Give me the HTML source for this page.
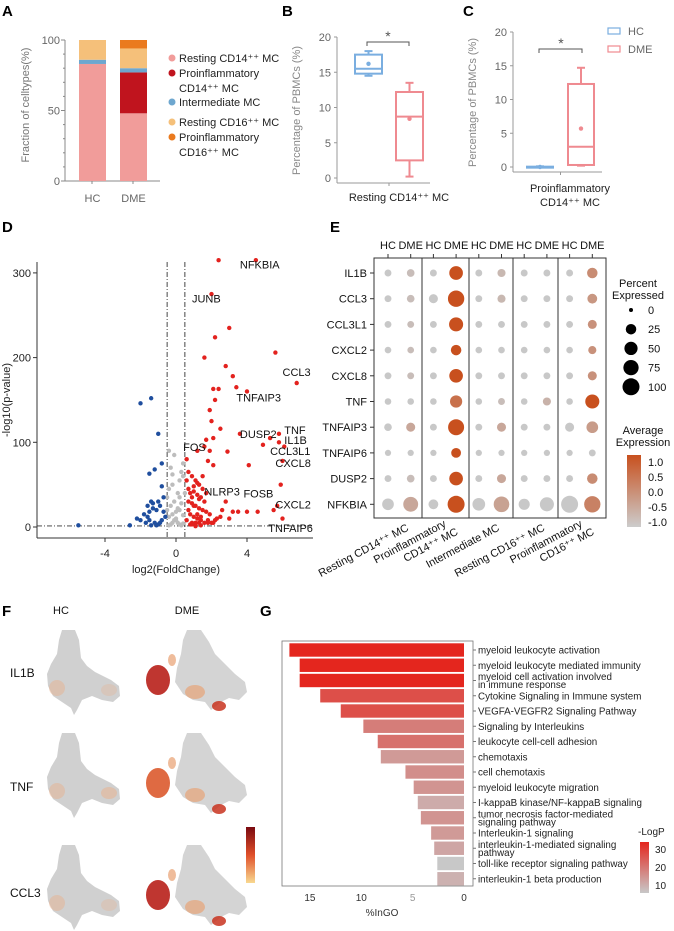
<!DOCTYPE html>
<html><head><meta charset="utf-8"><style>
html,body{margin:0;padding:0;background:#fff}
svg{display:block;font-family:"Liberation Sans",Arial,sans-serif}
</style></head><body>
<svg id="fig" width="674" height="931" viewBox="0 0 674 931">
<g font-size="15" font-weight="bold" fill="#000">
<text x="2" y="16">A</text>
<text x="282" y="16">B</text>
<text x="463" y="16">C</text>
<text x="2" y="232">D</text>
<text x="330" y="232">E</text>
<text x="2" y="616">F</text>
<text x="260" y="616">G</text>
</g>
<g id="pA"></g>
<g id="pB"></g>
<g id="pC"></g>
<g id="pD"></g>
<g id="pE"></g>
<g id="pF"></g>
<g id="pG"></g>
</svg>
<script>
const NS="http://www.w3.org/2000/svg";
function mk(p,t,a,txt){const e=document.createElementNS(NS,t);for(const k in a)e.setAttribute(k,a[k]);if(txt!==undefined)e.textContent=txt;p.appendChild(e);return e;}

// ---------- Panel A data ----------
const aGroups=["HC","DME"];
const aCellTypes=["Resting CD14⁺⁺ MC","Proinflammatory CD14⁺⁺ MC","Intermediate MC","Resting CD16⁺⁺ MC","Proinflammatory CD16⁺⁺ MC"];
const aHC=[83,0,3,14,0];
const aDME=[48,29,3,14,6];
const aTicks=[0,50,100];
const aColors=["#f19c9a","#c0141e","#6ea7cf","#f5c07a","#ea7a1e"];
// ---------- Panel B/C data ----------
const bHC=[14.5,14.8,15.5,17.5,18.0,16.2];
const bDME=[0.2,2.5,8.7,12.2,13.5,8.4];
const bTicks=[0,5,10,15,20];
const cHC=[0,0,0,0.05,0.1,0];
const cDME=[0.2,0.3,3.0,12.3,14.7,5.7];
const cTicks=[0,5,10,15,20];
// ---------- Panel D data ----------
const dUpX=[2.4,4.5,2.0,3.0,2.2,5.6,1.6,2.8,3.2,6.8,3.4,2.1,2.4,4.0,2.2,1.9,2.0,2.5,5.8,3.6,5.3,2.1,1.7,5.8,6.1,4.9,1.6,1.9,2.9,1.2,0.6,1.8,6.0,4.1,2.1,5.9,2.8,5.5,5.7,6.0,4.0,4.6,3.5,3.0,3.2,2.5,2.2,1.9,0.7,0.9,1.1,1.3,1.5,0.8,1.0,1.2,1.4,1.6,0.7,0.9,1.1,1.3,1.5,1.7,0.8,1.0,1.2,1.4,0.6,0.9,1.1,1.3,1.6,1.8,2.0,0.7,1.0,1.2,1.5,1.7,0.8,1.1,1.4,0.6,0.9,1.3,2.3,2.6,1.0,1.2,0.7,1.4,1.8,2.1,0.9,1.1];
const dUpY=[315,315,275,235,224,206,200,190,178,170,165,163,163,160,150,138,125,116,110,110,105,105,103,100,95,97,95,90,89,90,80,78,78,73,73,50,30,20,25,10,18,18,18,10,18,12,8,15,65,60,55,50,45,40,42,38,35,30,30,28,25,22,20,18,15,12,10,8,8,5,5,5,5,5,5,45,48,52,60,40,3,2,2,55,35,33,10,20,25,15,20,12,8,5,3,1];
const dDownX=[-1.4,-2.0,-1.0,-0.8,-1.2,-1.5,-5.5,-2.6,-2.2,-1.4,-1.0,-1.8,-1.6,-1.5,-1.3,-1.1,-0.9,-0.7,-1.7,-1.5,-1.2,-1.0,-0.8,-1.4,-1.1,-0.9,-0.6,-1.6,-1.3,-0.7,-2.0,-0.8];
const dDownY=[152,146,110,75,68,63,2,2,10,30,30,15,12,18,22,20,25,18,5,8,5,3,8,2,2,5,12,25,28,35,8,48];
const dNsX=[-0.4,-0.3,-0.2,-0.1,0.0,0.1,0.2,0.3,0.4,-0.4,-0.2,0.0,0.2,0.4,-0.3,-0.1,0.1,0.3,-0.5,0.5,-0.4,-0.2,0.2,0.4,0.0,-0.3,0.3,-0.1,0.1,-0.4,0.4,-0.2,0.2,-0.5];
const dNsY=[2,3,5,8,10,5,3,2,4,12,15,18,20,14,25,30,22,28,35,40,45,50,55,60,8,70,65,85,40,90,75,62,35,20];
const dXTicks=[-4,0,4];
const dYTicks=[0,100,200,300];
const dLabels=["NFKBIA","JUNB","CCL3","TNFAIP3","DUSP2","TNF","IL1B","CCL3L1","CXCL8","FOS","NLRP3","FOSB","CXCL2","TNFAIP6"];
const dLabX=[3.6,0.9,6.0,3.4,3.6,6.1,6.1,5.3,5.6,0.4,1.6,3.8,5.6,5.2];
const dLabY=[305,265,178,148,105,110,98,85,71,90,37,35,22,-6];
// ---------- Panel E data ----------
const eGenes=["IL1B","CCL3","CCL3L1","CXCL2","CXCL8","TNF","TNFAIP3","TNFAIP6","DUSP2","NFKBIA"];
const eGroupsTop=["HC","DME","HC","DME","HC","DME","HC","DME","HC","DME"];
const eCellTypes=["Resting CD14⁺⁺ MC","Proinflammatory|CD14⁺⁺ MC","Intermediate MC","Resting CD16⁺⁺ MC","Proinflammatory|CD16⁺⁺ MC"];
const ePct=[
[5,8,5,55,5,10,5,5,5,25],
[5,8,15,90,5,10,5,5,5,20],
[5,5,5,60,5,5,5,5,5,15],
[4,4,4,25,4,4,4,4,4,10],
[5,5,5,55,5,5,5,5,5,15],
[4,4,4,40,4,5,4,10,4,60],
[8,15,5,85,5,15,5,5,15,35],
[3,3,3,20,3,3,3,3,3,5],
[5,8,5,55,5,15,5,5,5,25],
[35,70,20,100,45,80,30,60,100,90]];
const eExpr=[
[-1,-0.8,-1,1.2,-1,-0.7,-1,-1,-1,0.1],
[-1,-0.8,-1,1.3,-1,-0.7,-1,-1,-1,-0.1],
[-1,-0.8,-1,1.3,-1,-1,-1,-1,-1,0],
[-1,-0.8,-1,1.3,-1,-1,-1,-1,-1,0],
[-1,-0.8,-1,1.3,-1,-1,-1,-1,-1,0],
[-1,-1,-1,0.6,-1,-0.8,-1,-0.6,-1,1.2],
[-1,-0.4,-1,1.3,-1,-0.4,-1,-1,-1,-0.2],
[-1,-1,-1,1.3,-1,-1,-1,-1,-1,-1],
[-1,-0.8,-1,1.3,-1,-0.4,-1,-1,-1,0.1],
[-1,-0.4,-1,1.3,-1,-0.3,-1,-1,-1,0.3]];
const ePctLegend=[0,25,50,75,100];
const eExprTicks=[1.0,0.5,0.0,-0.5,-1.0];
// ---------- Panel G data ----------
const gTerms=["myeloid leukocyte activation","myeloid leukocyte mediated immunity","myeloid cell activation involved|in immune response","Cytokine Signaling in Immune system","VEGFA-VEGFR2 Signaling Pathway","Signaling by Interleukins","leukocyte cell-cell adhesion","chemotaxis","cell chemotaxis","myeloid leukocyte migration","I-kappaB kinase/NF-kappaB signaling","tumor necrosis factor-mediated|signaling pathway","Interleukin-1 signaling","interleukin-1-mediated signaling|pathway","toll-like receptor signaling pathway","interleukin-1 beta production"];
const gPct=[17,16,16,14,12,9.8,8.4,8.1,5.7,4.9,4.5,4.2,3.2,2.9,2.6,2.6];
const gLogP=[34,34,34,27,27,19,21,14,16,15,11,15,14,12,6,10];
const gTicks=[15,10,5,0];
const gLegendTicks=[30,20,10];

// ===== Panel A =====
(function(){
 const g=document.getElementById('pA');
 const y=v=>181-v*1.41, x0=65;
 mk(g,'line',{x1:x0,y1:40,x2:x0,y2:181,stroke:'#888','stroke-width':1});
 mk(g,'line',{x1:x0,y1:181,x2:160,y2:181,stroke:'#888','stroke-width':1});
 for(let t=0;t<=100;t+=10)mk(g,'line',{x1:x0-(t%50?2:4),y1:y(t),x2:x0,y2:y(t),stroke:'#888'});
 [92,133].forEach(xx=>mk(g,'line',{x1:xx,y1:181,x2:xx,y2:184,stroke:'#888'}));
 aTicks.forEach(t=>{
  const e=mk(g,'text',{x:x0-5,y:y(t)+4,'font-size':11,'text-anchor':'end',fill:'#666'},t);
  });
 [aHC,aDME].forEach((arr,gi)=>{let cum=0;const bx=gi?120:79;
  arr.forEach((v,i)=>{if(v<=0)return;const r=mk(g,'rect',{x:bx,y:y(cum+v),width:27,height:v*1.41,fill:aColors[i]});
   cum+=v;});
  const e=mk(g,'text',{x:bx+13.5,y:202,'font-size':11,'text-anchor':'middle',fill:'#666'},aGroups[gi]);
  });
 const t=mk(g,'text',{transform:'translate(29,105) rotate(-90)','font-size':11,'text-anchor':'middle',fill:'#777'},'Fraction of celltypes(%)');
 
 const ly=[[62],[77,92],[106],[126],[141,156]];
 aCellTypes.forEach((n,i)=>{const c=mk(g,'circle',{cx:172,cy:ly[i][0]-4,r:3.5,fill:aColors[i]});
  
  const parts=n.indexOf('Proinflammatory')===0?['Proinflammatory',n.slice(16)]:[n];
  parts.forEach((p,j)=>{const e=mk(g,'text',{x:179,y:ly[i][j],'font-size':11,fill:'#222'},p);
   });});
})();

// ===== Box plot helper =====
function boxPanel(id,ax,y0,y20,hcx,dmx,w,hc,dme,ticks,title,titleY,axRight){
 const g=document.getElementById(id);const y=v=>y0-(v/20)*(y0-y20);
 mk(g,'line',{x1:ax,y1:y20,x2:ax,y2:y0+5,stroke:'#999','stroke-width':1});
 mk(g,'line',{x1:ax,y1:y0+5,x2:axRight,y2:y0+5,stroke:'#999','stroke-width':1});
 mk(g,'line',{x1:(hcx+dmx+w)/2,y1:y0+5,x2:(hcx+dmx+w)/2,y2:y0+8,stroke:'#999'});
 ticks.forEach(t=>{mk(g,'line',{x1:ax-3,y1:y(t),x2:ax,y2:y(t),stroke:'#999'});
  const e=mk(g,'text',{x:ax-6,y:y(t)+4,'font-size':11,'text-anchor':'end',fill:'#666'},t);
  });
 [[hc,hcx,'#7aaee0'],[dme,dmx,'#ef8a90']].forEach(([d,bx,c])=>{
  const cx=bx+w/2;
  const b=mk(g,'rect',{x:bx,y:y(d[3]),width:w,height:Math.max(1,y(d[1])-y(d[3])),fill:'none',stroke:c,'stroke-width':2});
  
  mk(g,'line',{x1:bx,y1:y(d[2]),x2:bx+w,y2:y(d[2]),stroke:c,'stroke-width':2});
  mk(g,'line',{x1:cx,y1:y(d[3]),x2:cx,y2:y(d[4]),stroke:c,'stroke-width':2});
  mk(g,'line',{x1:cx,y1:y(d[1]),x2:cx,y2:y(d[0]),stroke:c,'stroke-width':2});
  mk(g,'line',{x1:cx-4,y1:y(d[4]),x2:cx+4,y2:y(d[4]),stroke:c,'stroke-width':2});
  mk(g,'line',{x1:cx-4,y1:y(d[0]),x2:cx+4,y2:y(d[0]),stroke:c,'stroke-width':2});
  mk(g,'circle',{cx:cx,cy:y(d[5]),r:2.2,fill:c});});
 const t=mk(g,'text',{transform:`translate(${ax-37},${(y0+y20)/2+3}) rotate(-90)`,'font-size':11,'text-anchor':'middle',fill:'#888'},'Percentage of PBMCs (%)');
 
 return g;
}
(function(){
 const g=boxPanel('pB',337,178,37,355,396,27,bHC,bDME,bTicks,[],0,430);
 mk(g,'path',{d:'M367,46V42H409V46',fill:'none',stroke:'#555','stroke-width':1});
 mk(g,'text',{x:388,y:41,'font-size':14,'text-anchor':'middle',fill:'#555'},'*');
 const e=mk(g,'text',{x:399,y:201,'font-size':11,'text-anchor':'middle',fill:'#222'},'Resting CD14⁺⁺ MC');
 
})();
(function(){
 const g=boxPanel('pC',513,167,32,527,568,26,cHC,cDME,cTicks,[],0,602);
 mk(g,'path',{d:'M539,53V49H582V53',fill:'none',stroke:'#555','stroke-width':1});
 mk(g,'text',{x:561,y:48,'font-size':14,'text-anchor':'middle',fill:'#555'},'*');
 ['Proinflammatory','CD14⁺⁺ MC'].forEach((s,i)=>{const e=mk(g,'text',{x:570,y:192+i*14,'font-size':11,'text-anchor':'middle',fill:'#222'},s);
  });
 [['HC','#7aaee0',31],['DME','#ef8a90',49]].forEach(([n,c,yy])=>{
  const r=mk(g,'rect',{x:608,y:yy-3,width:12,height:6,fill:'none',stroke:c,'stroke-width':1.2});
  
  const e=mk(g,'text',{x:628,y:yy+4,'font-size':11,fill:'#666'},n);
  });
})();

// ===== Panel D =====
(function(){
 const g=document.getElementById('pD');
 const x=v=>176+v*17.75, y=v=>527-v*0.847;
 mk(g,'line',{x1:37,y1:262,x2:37,y2:538,stroke:'#333','stroke-width':1});
 mk(g,'line',{x1:37,y1:538,x2:313,y2:538,stroke:'#333','stroke-width':1});
 mk(g,'line',{x1:x(-0.5),y1:262,x2:x(-0.5),y2:538,stroke:'#333','stroke-dasharray':'5,2,1,2','stroke-width':0.9});
 mk(g,'line',{x1:x(0.5),y1:262,x2:x(0.5),y2:538,stroke:'#333','stroke-dasharray':'5,2,1,2','stroke-width':0.9});
 mk(g,'line',{x1:37,y1:y(1.3),x2:313,y2:y(1.3),stroke:'#333','stroke-dasharray':'5,2,1,2','stroke-width':0.9});
 dXTicks.forEach(t=>{mk(g,'line',{x1:x(t),y1:538,x2:x(t),y2:542,stroke:'#333'});
  const e=mk(g,'text',{x:x(t),y:557,'font-size':11,'text-anchor':'middle',fill:'#222'},t);
  });
 dYTicks.forEach(t=>{mk(g,'line',{x1:33,y1:y(t),x2:37,y2:y(t),stroke:'#333'});
  const e=mk(g,'text',{x:31,y:y(t)+4,'font-size':11,'text-anchor':'end',fill:'#222'},t);
  });
 const tx=mk(g,'text',{x:176,y:573,'font-size':11,'text-anchor':'middle',fill:'#222'},'log2(FoldChange)');
 
 const ty=mk(g,'text',{transform:'translate(10,400) rotate(-90)','font-size':11,'text-anchor':'middle',fill:'#222'},'-log10(p-value)');
 
 dNsX.forEach((v,i)=>{const c=mk(g,'circle',{cx:x(v),cy:y(dNsY[i]),r:2.2,fill:'#bdbdbd'});});
 dDownX.forEach((v,i)=>{const c=mk(g,'circle',{cx:x(v),cy:y(dDownY[i]),r:2.2,fill:'#1f4e9e'});});
 dUpX.forEach((v,i)=>{const c=mk(g,'circle',{cx:x(v),cy:y(Math.min(dUpY[i],318)),r:2.2,fill:'#e3221e'});});
 dLabels.forEach((n,i)=>{const e=mk(g,'text',{x:x(dLabX[i]),y:y(dLabY[i]),'font-size':11,fill:'#111'},n);
  });
})();

// ===== Panel E =====
(function(){
 const g=document.getElementById('pE');
 const cx=i=>388+i*22.7, cy=j=>273+j*25.7;
 const col=v=>{const t=Math.max(0,Math.min(1,(v+1)/2.2));const a=[200,200,200],b=[200,80,30];return `rgb(${a.map((c,k)=>Math.round(c+(b[k]-c)*t)).join(',')})`;};
 mk(g,'rect',{x:374,y:258,width:232,height:260,fill:'none',stroke:'#333','stroke-width':1});
 [422,469,513,558].forEach(xx=>mk(g,'line',{x1:xx,y1:258,x2:xx,y2:518,stroke:'#333','stroke-width':1}));
 eGroupsTop.forEach((n,i)=>{mk(g,'line',{x1:cx(i),y1:254,x2:cx(i),y2:258,stroke:'#333'});
  const e=mk(g,'text',{x:cx(i),y:249,'font-size':11,'text-anchor':'middle',fill:'#111'},n);
  });
 eGenes.forEach((n,j)=>{mk(g,'line',{x1:370,y1:cy(j),x2:374,y2:cy(j),stroke:'#333'});
  const e=mk(g,'text',{x:367,y:cy(j)+4,'font-size':11,'text-anchor':'end',fill:'#111'},n);
  
  ePct[j].forEach((p,i)=>{const c=mk(g,'circle',{cx:cx(i),cy:cy(j),r:2+Math.sqrt(p/100)*6.5,fill:col(eExpr[j][i])});
   });});
 eCellTypes.forEach((n,k)=>{const parts=n.split('|');const xc=(cx(2*k)+cx(2*k+1))/2+10;
  parts.forEach((p,m)=>{const ox=parts.length>1?(m?4:-8):0, oy=parts.length>1?(m?4:-4):0;
   const e=mk(g,'text',{transform:`translate(${xc+ox},${530+oy}) rotate(-28)`,'font-size':11,'text-anchor':'end',fill:'#111'},p);
   });});
 mk(g,'text',{x:638,y:287,'font-size':11,'text-anchor':'middle',fill:'#111'},'Percent');
 mk(g,'text',{x:638,y:299,'font-size':11,'text-anchor':'middle',fill:'#111'},'Expressed');
 ePctLegend.forEach((p,k)=>{const yy=310+k*19.2;
  const c=mk(g,'circle',{cx:631,cy:yy,r:2+Math.sqrt(p/100)*6.5,fill:'#000'});
  mk(g,'text',{x:648,y:yy+4,'font-size':11,fill:'#111'},p);});
 mk(g,'text',{x:643,y:434,'font-size':11,'text-anchor':'middle',fill:'#111'},'Average');
 mk(g,'text',{x:643,y:446,'font-size':11,'text-anchor':'middle',fill:'#111'},'Expression');
 const d=mk(g,'defs',{});const lg=mk(d,'linearGradient',{id:'egrad',x1:0,y1:0,x2:0,y2:1});
 mk(lg,'stop',{offset:0,'stop-color':'#c8501e'});mk(lg,'stop',{offset:1,'stop-color':'#cccccc'});
 const cb=mk(g,'rect',{x:627,y:455,width:14,height:72,fill:'url(#egrad)'});
 eExprTicks.forEach((t,k)=>{const yy=462+k*15;mk(g,'text',{x:648,y:yy+4,'font-size':11,fill:'#111'},t.toFixed(1));});
})();

// ===== Panel F =====
(function(){
 const g=document.getElementById('pF');
 mk(g,'text',{x:61,y:614,'font-size':11,'text-anchor':'middle',fill:'#111'},'HC');
 mk(g,'text',{x:187,y:614,'font-size':11,'text-anchor':'middle',fill:'#111'},'DME');
 const genes=["IL1B","TNF","CCL3"],gy=[677,791,897],oy=[630,733,845];
 const hcBlob="M15,0 L28,0 L32,10 L34,28 L40,36 L48,42 L56,46 L64,50 L72,56 L73,66 L66,72 L55,70 L45,66 L35,70 L30,80 L27,85 L24,78 L15,72 L6,66 L1,56 L0,44 L4,34 L10,24 L12,10 Z";
 const dmBlob="M42,0 L56,0 L64,12 L70,24 L80,34 L90,44 L100,52 L102,62 L94,70 L84,68 L76,72 L66,80 L60,72 L48,70 L38,64 L30,52 L32,38 L36,24 L38,10 Z";
 genes.forEach((n,r)=>{const e=mk(g,'text',{x:10,y:gy[r],'font-size':12,fill:'#111'},n);
  
  const b1=mk(g,'path',{d:hcBlob,transform:`translate(47,${oy[r]})`,fill:'#d0d0d0'});
  
  const s1=mk(g,'g',{transform:`translate(47,${oy[r]})`});
  mk(s1,'ellipse',{cx:10,cy:58,rx:8,ry:8,fill:'#e9b08a',opacity:0.45});
  mk(s1,'ellipse',{cx:62,cy:60,rx:8,ry:6,fill:'#e9b08a',opacity:r===1?0.5:0.3});
  const b2=mk(g,'path',{d:dmBlob,transform:`translate(145,${oy[r]})`,fill:'#d4d4d4'});
  
  const s=mk(g,'g',{transform:`translate(145,${oy[r]})`});
  mk(s,'ellipse',{cx:13,cy:50,rx:12,ry:15,fill:r===1?'#dc5a2e':'#b8201a',opacity:0.9});
  mk(s,'ellipse',{cx:27,cy:30,rx:4,ry:6,fill:'#e8a070',opacity:0.7});
  mk(s,'ellipse',{cx:50,cy:62,rx:10,ry:7,fill:'#e8a070',opacity:0.65});
  mk(s,'ellipse',{cx:74,cy:76,rx:7,ry:5,fill:'#c8321e',opacity:0.85});
 });
 const d=mk(g,'defs',{});const lg=mk(d,'linearGradient',{id:'fgrad',x1:0,y1:0,x2:0,y2:1});
 mk(lg,'stop',{offset:0,'stop-color':'#7a0a10'});mk(lg,'stop',{offset:0.5,'stop-color':'#e0502a'});mk(lg,'stop',{offset:1,'stop-color':'#f8d890'});
 const cb=mk(g,'rect',{x:246,y:827,width:9,height:56,fill:'url(#fgrad)'});
})();

// ===== Panel G =====
(function(){
 const g=document.getElementById('pG');
 const x=v=>464-v*10.27, cy=i=>650+i*15.25;
 const col=v=>{const t=Math.max(0,Math.min(1,(v-6)/28));const a=[200,200,200],b=[228,38,30];return `rgb(${a.map((c,k)=>Math.round(c+(b[k]-c)*t)).join(',')})`;};
 mk(g,'rect',{x:282,y:641,width:191,height:245,fill:'none',stroke:'#777','stroke-width':0.8});
 gPct.forEach((v,i)=>{const r=mk(g,'rect',{x:x(v),y:cy(i)-6.7,width:x(0)-x(v),height:13.4,fill:col(gLogP[i])});
  
  mk(g,'line',{x1:473,y1:cy(i),x2:476,y2:cy(i),stroke:'#777'});
  const parts=gTerms[i].split('|');
  parts.forEach((p,m)=>{const e=mk(g,'text',{x:478,y:cy(i)+3.5+(parts.length>1?(m?4:-4):0),'font-size':9.8,fill:'#222'},p);
   });});
 gTicks.forEach(t=>{const e=mk(g,'text',{x:x(t),y:901,'font-size':10,'text-anchor':'middle',fill:t===5?'#999':'#333'},t);
  });
 const tx=mk(g,'text',{x:382,y:916,'font-size':10,'text-anchor':'middle',fill:'#333'},'%InGO');
 
 mk(g,'text',{x:638,y:835,'font-size':10,fill:'#222'},'-LogP');
 const d=mk(g,'defs',{});const lg=mk(d,'linearGradient',{id:'ggrad',x1:0,y1:0,x2:0,y2:1});
 mk(lg,'stop',{offset:0,'stop-color':'#e4261e'});mk(lg,'stop',{offset:1,'stop-color':'#c8c8c8'});
 const cb=mk(g,'rect',{x:640,y:842,width:9,height:51,fill:'url(#ggrad)'});
 gLegendTicks.forEach((t,k)=>mk(g,'text',{x:655,y:853+k*18,'font-size':10,fill:'#222'},t));
})();
</script>
</body></html>
